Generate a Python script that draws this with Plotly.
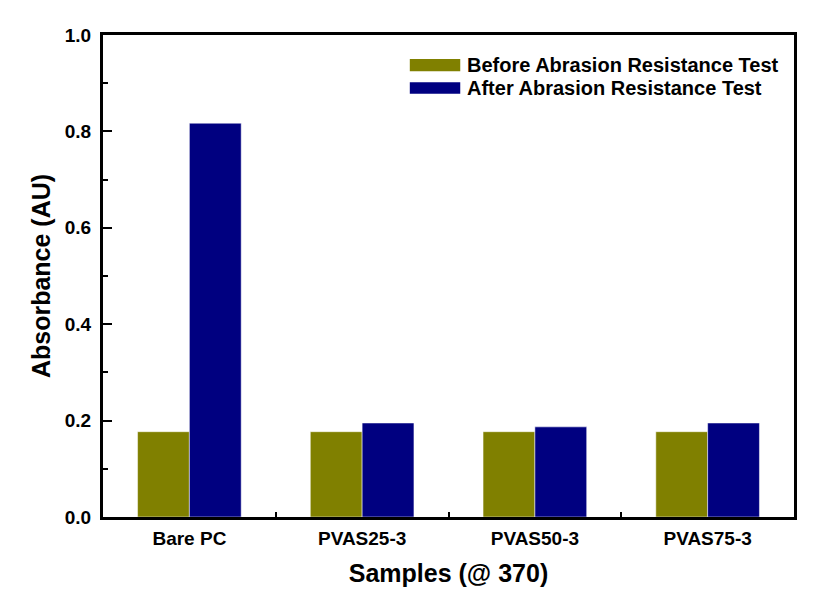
import plotly.graph_objects as go

samples = ["Bare PC", "PVAS25-3", "PVAS50-3", "PVAS75-3"]
before = [0.177, 0.177, 0.177, 0.177]
after = [0.817, 0.195, 0.187, 0.195]
legend_names = ["Before Abrasion Resistance Test", "After Abrasion Resistance Test"]
colors = ["#808000", "#000080"]

fig = go.Figure()
fig.add_trace(go.Bar(x=samples, y=before, name=legend_names[0], marker=dict(color=colors[0], line=dict(color="white", width=0.5)), showlegend=False))
fig.add_trace(go.Bar(x=samples, y=after, name=legend_names[1], marker=dict(color=colors[1], line=dict(color="white", width=0.5)), showlegend=False))

font_family = "Liberation Sans, Arial, sans-serif"
fig.update_layout(
    width=821, height=600,
    margin=dict(l=103, r=27, t=35, b=83),
    plot_bgcolor="white", paper_bgcolor="white",
    barmode="group", bargap=0.4, bargroupgap=0.0,
    font=dict(family=font_family, color="black"),
)
fig.update_xaxes(
    automargin=False,
    showline=True, linecolor="black", linewidth=3, mirror=True,
    ticks="inside", tickson="boundaries", ticklen=5, tickwidth=2, tickcolor="black",
    ticklabelstandoff=2,
    tickfont=dict(size=19, family=font_family, weight="bold"),
    title=dict(text="Samples (@ 370)", font=dict(size=25, family=font_family, weight="bold"), standoff=17),
    showgrid=False,
)
fig.update_yaxes(
    automargin=False,
    range=[0, 1.0], dtick=0.2, tick0=0, tickformat=".1f",
    showline=True, linecolor="black", linewidth=3, mirror=True,
    ticks="inside", ticklen=9, tickwidth=2, tickcolor="black",
    ticklabelstandoff=5,
    minor=dict(ticks="inside", dtick=0.1, ticklen=5, tickwidth=2, tickcolor="black"),
    tickfont=dict(size=19, family=font_family, weight="bold"),
    title=dict(text="Absorbance (AU)", font=dict(size=25, family=font_family, weight="bold"), standoff=8),
    showgrid=False, zeroline=False,
)

# manual legend
leg_rows = [(0.950, 0.925), (0.902, 0.878)]
for (y1, y0), name, c in zip(leg_rows, legend_names, colors):
    fig.add_shape(type="rect", xref="paper", yref="paper", x0=0.444, x1=0.517, y0=y0, y1=y1,
                  fillcolor=c, line=dict(width=0))
    fig.add_annotation(xref="paper", yref="paper", x=0.524, y=(y0 + y1) / 2, text=name,
                       showarrow=False, xanchor="left", yanchor="middle",
                       font=dict(size=20, family=font_family, weight="bold", color="black"))

fig.write_html("out.html")
